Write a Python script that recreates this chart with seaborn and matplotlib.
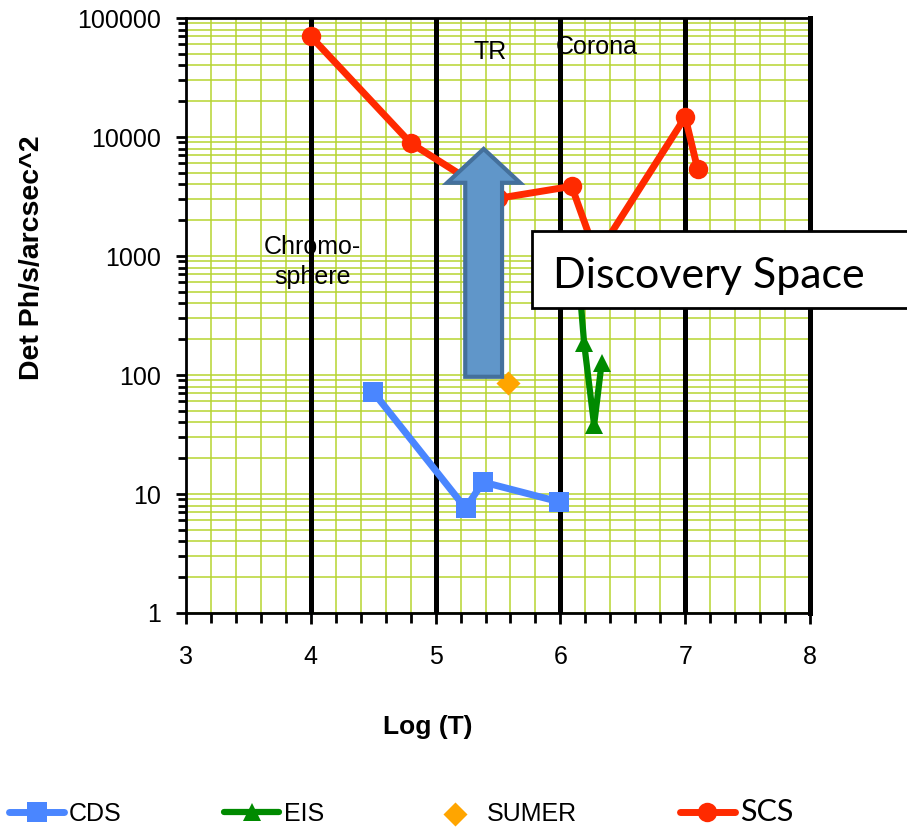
import numpy as np
import pandas as pd
import matplotlib
matplotlib.use("Agg")
import matplotlib.pyplot as plt
from matplotlib.ticker import FixedLocator, NullFormatter, FixedFormatter
from matplotlib.patches import FancyArrow, Rectangle
import seaborn as sns

# ---- data -------------------------------------------------------------
cds_logt = [4.5, 5.24, 5.38, 5.99]
cds_det = [72, 7.6, 12.6, 8.6]

eis_logt = [6.14, 6.19, 6.27, 6.33]
eis_det = [800, 185, 38, 125]

sumer_logt = [5.58]
sumer_det = [86]

scs_logt = [4.0, 4.8, 5.5, 6.09, 6.29, 7.0, 7.1]
scs_det = [70000, 8900, 3050, 3850, 1000, 14700, 5350]

x_ticks = [3, 4, 5, 6, 7, 8]
y_ticks = [1, 10, 100, 1000, 10000, 100000]
y_tick_labels = ["1", "10", "100", "1000", "10000", "100000"]

region_labels = ["Chromo-\nsphere", "TR", "Corona"]
region_x = [4.01, 5.44, 6.29]
region_y = [890, 51800, 57000]

# ---- style ------------------------------------------------------------
sns.set_theme(style="white")
plt.rcParams["font.family"] = ["Liberation Sans", "DejaVu Sans"]
plt.rcParams["text.color"] = "black"
plt.rcParams["axes.labelcolor"] = "black"
plt.rcParams["xtick.color"] = "black"
plt.rcParams["ytick.color"] = "black"

GRID = "#B6D430"
RED = "#FF2A00"
BLUE = "#4A86FF"
GREEN = "#008A00"
ORANGE = "#FFA500"

fig = plt.figure(figsize=(9.07, 8.27), dpi=100)
ax = fig.add_axes([186 / 907, 1 - 613 / 827, 624 / 907, 595 / 827])

ax.set_yscale("log")
ax.set_xlim(3, 8)
ax.set_ylim(1, 100000)

# grid: yellow-green minor/major lines, black verticals at integer log T
minor_x = [v for v in np.arange(3.0, 8.01, 0.2)]
for v in minor_x:
    ax.axvline(v, color=GRID, lw=1.1, zorder=0)
for dec in [1, 10, 100, 1000, 10000]:
    for m in range(1, 10):
        ax.axhline(dec * m, color=GRID, lw=1.1, zorder=0)
for v in [4, 5, 6, 7, 8]:
    ax.axvline(v, color="black", lw=3.6, zorder=1.5)

# region labels (under the black lines)
for lab, xv, yv in zip(region_labels, region_x, region_y):
    ax.text(xv, yv, lab, ha="center", va="center", fontsize=18,
            color="black", linespacing=1.3, zorder=1)

# ---- series -----------------------------------------------------------
cds = pd.DataFrame({"logT": cds_logt, "det": cds_det})
eis = pd.DataFrame({"logT": eis_logt, "det": eis_det})
sumer = pd.DataFrame({"logT": sumer_logt, "det": sumer_det})
scs = pd.DataFrame({"logT": scs_logt, "det": scs_det})

sns.lineplot(data=cds, x="logT", y="det", ax=ax, color=BLUE, lw=5,
             marker="s", markersize=14, markeredgewidth=0, sort=False,
             label="CDS", zorder=3)
sns.lineplot(data=eis, x="logT", y="det", ax=ax, color=GREEN, lw=4.5,
             marker="^", markersize=13, markeredgewidth=0, sort=False,
             label="EIS", zorder=3)
sns.scatterplot(data=sumer, x="logT", y="det", ax=ax, color=ORANGE,
                marker="D", s=150, linewidth=0, label="SUMER", zorder=4)
sns.lineplot(data=scs, x="logT", y="det", ax=ax, color=RED, lw=5,
             marker="o", markersize=14, markeredgewidth=0, sort=False,
             label="SCS", zorder=3)

# ---- annotations ------------------------------------------------------
arrow = FancyArrow(0.477, 0.397, 0, 0.383, width=0.059, head_width=0.117,
                   head_length=0.057, length_includes_head=True,
                   transform=ax.transAxes, facecolor="#6096C9",
                   edgecolor="#44709C", lw=3, zorder=5)
ax.add_patch(arrow)

box = Rectangle((0.5545, 0.5126), 0.7, 0.1294, transform=ax.transAxes,
                facecolor="white", edgecolor="black", lw=2, zorder=6,
                clip_on=False)
ax.add_patch(box)
ax.text(0.588, 0.546, "Discovery Space", transform=ax.transAxes,
        ha="left", va="baseline", fontsize=31, family=["Lato", "DejaVu Sans"],
        color="black", zorder=7, clip_on=False)

# ---- axes -------------------------------------------------------------
for side in ["left", "bottom", "top", "right"]:
    ax.spines[side].set_visible(True)
    ax.spines[side].set_color("black")
    ax.spines[side].set_linewidth(2)
    ax.spines[side].set_zorder(2)
ax.spines["right"].set_linewidth(3.6)

ax.xaxis.set_major_locator(FixedLocator(x_ticks))
ax.xaxis.set_major_formatter(FixedFormatter([str(t) for t in x_ticks]))
ax.xaxis.set_minor_locator(FixedLocator(minor_x))
ax.xaxis.set_minor_formatter(NullFormatter())
ax.yaxis.set_major_locator(FixedLocator(y_ticks))
ax.yaxis.set_major_formatter(FixedFormatter(y_tick_labels))
ax.yaxis.set_minor_locator(FixedLocator(
    [d * m for d in [1, 10, 100, 1000, 10000] for m in range(2, 10)]))
ax.yaxis.set_minor_formatter(NullFormatter())

ax.tick_params(axis="x", which="major", direction="out", length=8, width=2,
               pad=15, labelsize=18, color="black", labelcolor="black",
               bottom=True)
ax.tick_params(axis="x", which="minor", direction="out", length=7, width=2,
               color="black", bottom=True)
ax.tick_params(axis="y", which="major", direction="out", length=7, width=2,
               pad=11, labelsize=18, color="black", labelcolor="black",
               left=True)
ax.tick_params(axis="y", which="minor", direction="out", length=6, width=2,
               color="black", left=True)

ax.set_xlabel("Log (T)", fontsize=19, fontweight="bold", color="black",
              va="top")
ax.xaxis.set_label_coords(0.388, -0.172)
ax.set_ylabel("Det Ph/s/arcsec^2", fontsize=20.5, fontweight="bold",
              color="black", va="center")
ax.yaxis.set_label_coords(-0.247, 0.597)

leg = ax.legend(loc="center left", bbox_to_anchor=(9 / 907, 15 / 827),
                bbox_transform=fig.transFigure, ncol=4, frameon=False,
                fontsize=18, handlelength=2.2, handletextpad=0.2,
                columnspacing=4.1, borderpad=0, borderaxespad=0)
for t in leg.get_texts():
    t.set_color("black")
scs_text = leg.get_texts()[3]
scs_text.set_fontfamily(["Lato", "DejaVu Sans"])
scs_text.set_fontsize(22)

fig.savefig("out.png", dpi=100)
